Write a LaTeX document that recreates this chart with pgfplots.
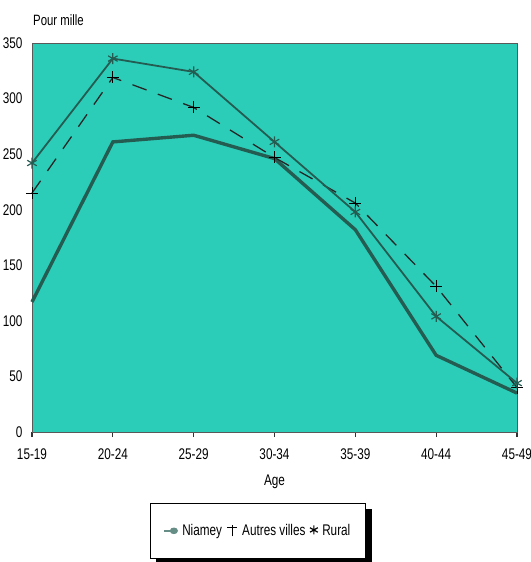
\documentclass[border=0pt]{standalone}
\usepackage{pgfplots}
\pgfplotsset{compat=1.18}
\usepackage{fontspec}
\setmainfont{Liberation Sans}[FakeStretch=0.76]
\definecolor{bgteal}{RGB}{44,205,184}
\definecolor{linedark}{RGB}{36,92,82}
\pgfdeclarelayer{bg}
\pgfsetlayers{bg,main}
\begin{document}
\begin{tikzpicture}
\path[use as bounding box] (-32bp,-130bp) rectangle (499bp,432bp);
\begin{axis}[
  at={(0,0)}, anchor=south west,
  scale only axis, width=485bp, height=389bp,
  xmin=0, xmax=6, ymin=0, ymax=350,
  xtick={0,1,2,3,4,5,6},
  xticklabels={15-19,20-24,25-29,30-34,35-39,40-44,45-49},
  ytick={0,50,100,150,200,250,300,350},
  xtick pos=bottom, ytick pos=left,
  tick align=outside,
  major tick length=5bp,
  x tick style={black!80, line width=1.2pt},
  y tick style={draw=none},
  axis background/.style={fill=bgteal},
  axis line style={black!65, line width=1pt},
  tick label style={font=\fontsize{15.5}{16}\selectfont},
  /pgf/number format/assume math mode=true,
  xticklabel style={yshift=-8bp},
  yticklabel style={xshift=-1bp},
  xlabel={Age}, xlabel style={font=\fontsize{15.5}{16}\selectfont, yshift=-9bp},
  clip=false,
  legend style={at={(rel axis cs:0.2433,-0.1825)}, anchor=north west, legend columns=3,
    name=leg, fill=white,
    draw=black, line width=1pt, font=\fontsize{15.5}{16}\selectfont,
    inner xsep=13bp, inner ysep=19bp, column sep=2.5bp},
  legend cell align=left,
]
\addplot[linedark, line width=3.4pt, mark=none,
  legend image code/.code={\draw[linedark!70, line width=1.5pt] (0.02cm,0) -- (0.28cm,0); \fill[linedark!70] (0.36cm,0) ellipse (2.2pt and 1.5pt);}]
  coordinates {(0,117) (1,261) (2,267) (3,246) (4,182) (5,69) (6,35)};
\addlegendentry{Niamey}
\addplot[black!85, line width=1.3pt, dash pattern=on 15bp off 12bp, mark=+, mark size=6bp,
  mark options={solid, line width=1pt, black},
  legend image code/.code={\draw[black, line width=1pt] (0.2cm,-0.2cm) -- (0.2cm,0.2cm) (0.02cm,0.1cm) -- (0.38cm,0.1cm);}]
  coordinates {(0,215) (1,319) (2,292) (3,247) (4,206) (5,131) (6,40)};
\addlegendentry{Autres villes}
\addplot[linedark, line width=1.8pt, mark=asterisk, mark size=5.5bp,
  mark options={line width=1.2pt},
  legend image code/.code={\draw[black, line width=1.1pt, mark=asterisk, mark size=4.5bp] plot coordinates {(0.22cm,0.03cm)};}]
  coordinates {(0,242) (1,336) (2,324) (3,261) (4,198) (5,104) (6,44)};
\addlegendentry{Rural}
\node[anchor=south west, font=\fontsize{15}{16}\selectfont, inner sep=0pt] at ([xshift=1bp, yshift=17bp]rel axis cs:0,1) {Pour mille};
\end{axis}
\begin{pgfonlayer}{bg}
\fill[black] ([xshift=6bp,yshift=-6bp]leg.south west) rectangle ([xshift=6bp,yshift=-6bp]leg.north east);
\end{pgfonlayer}
\end{tikzpicture}
\end{document}
